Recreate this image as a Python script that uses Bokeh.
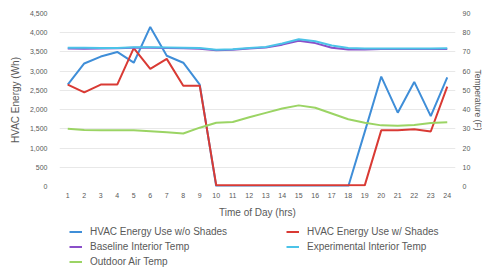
from bokeh.plotting import figure
from bokeh.layouts import column
from bokeh.models import Range1d, LinearAxis, FixedTicker, NumeralTickFormatter, Legend, LegendItem
from bokeh.embed import file_html
from bokeh.resources import INLINE

hours = list(range(1, 25))
energy_no_shades = [2650, 3200, 3380, 3500, 3220, 4150, 3400, 3220, 2650, 0, 0, 0, 0, 0, 0, 0, 0, 0,
                    1420, 2860, 1920, 2720, 1830, 2840]
energy_shades = [2650, 2450, 2650, 2650, 3600, 3060, 3320, 2620, 2620, 30, 30, 30, 30, 30, 30, 30, 30, 30,
                 30, 1460, 1460, 1490, 1430, 2600]
baseline_temp = [71.8, 71.7, 71.8, 71.9, 72.2, 72.2, 72.1, 71.9, 71.6, 70.9, 71.1, 71.8, 72.3, 73.8,
                 75.8, 74.6, 72.2, 71.3, 71.3, 71.5, 71.5, 71.5, 71.5, 71.5]
exp_temp = [72.2, 72.2, 72.1, 72.0, 72.4, 72.4, 72.3, 72.2, 72.0, 71.2, 71.4, 72.1, 72.6, 74.4,
            76.6, 75.6, 73.4, 72.0, 71.8, 71.8, 71.8, 71.8, 71.8, 71.9]
outdoor_temp = [30.0, 29.4, 29.3, 29.3, 29.2, 28.8, 28.2, 27.6, 30.6, 33.2, 33.6, 36.0, 38.3, 40.6,
                42.2, 41.0, 38.0, 35.0, 33.2, 31.8, 31.6, 32.0, 33.0, 33.4]
series_names = ["HVAC Energy Use w/o Shades", "HVAC Energy Use w/ Shades",
                "Baseline Interior Temp", "Experimental Interior Temp", "Outdoor Air Temp"]
series_colors = ["#3f8ed8", "#d93a34", "#8a4fc9", "#4cc3e8", "#9bd464"]

left_ticks = list(range(0, 4501, 500))
right_ticks = list(range(0, 91, 10))

FONT = "Liberation Sans"
GREY = "#595959"

p = figure(output_backend="svg", toolbar_location=None,
           x_range=Range1d(0.5, 24.5), y_range=Range1d(0, 4500),
           frame_width=396, frame_height=173,
           min_border_left=59, min_border_right=0, min_border_top=13, min_border_bottom=0)
p.extra_y_ranges = {"temp": Range1d(0, 90)}
p.outline_line_color = None

p.line(hours, energy_no_shades, line_color=series_colors[0], line_width=2)
p.line(hours, energy_shades, line_color=series_colors[1], line_width=2)
p.line(hours, baseline_temp, line_color=series_colors[2], line_width=2, y_range_name="temp")
p.line(hours, exp_temp, line_color=series_colors[3], line_width=2, y_range_name="temp")
p.line(hours, outdoor_temp, line_color=series_colors[4], line_width=2, y_range_name="temp")

p.xaxis.ticker = FixedTicker(ticks=hours)
p.yaxis.ticker = FixedTicker(ticks=left_ticks)
p.yaxis.formatter = NumeralTickFormatter(format="0,0")
p.xgrid.visible = False
p.ygrid.ticker = FixedTicker(ticks=left_ticks)
p.ygrid.grid_line_color = "#e8e8e8"

raxis = LinearAxis(y_range_name="temp", ticker=FixedTicker(ticks=right_ticks))
p.add_layout(raxis, "right")

for ax in [p.xaxis[0], p.yaxis[0], raxis]:
    ax.axis_line_color = None
    ax.major_tick_line_color = None
    ax.minor_tick_line_color = None
    ax.major_label_text_font = FONT
    ax.major_label_text_font_size = "7px"
    ax.major_label_text_color = GREY
    ax.axis_label_text_font = FONT
    ax.axis_label_text_font_size = "10px"
    ax.axis_label_text_font_style = "normal"
    ax.axis_label_text_color = GREY

p.xaxis.axis_label = "Time of Day (hrs)"
p.xaxis.major_label_standoff = 0
p.xaxis.axis_label_standoff = 6
p.yaxis.axis_label = "HVAC Energy (Wh)"
p.yaxis.major_label_standoff = 6
p.yaxis.axis_label_standoff = 6
raxis.axis_label = "Temperature (F)"
raxis.axis_label_text_font_size = "8.5px"
raxis.major_label_standoff = 1
raxis.axis_label_standoff = 0

# Legend panel: a second figure whose frame holds the legend
p2 = figure(output_backend="svg", toolbar_location=None, width=474, height=56,
            x_range=Range1d(0.5, 24.5), y_range=Range1d(-20000, -10000),
            x_axis_location=None, y_axis_location=None,
            min_border_left=0, min_border_right=0, min_border_top=0, min_border_bottom=0)
p2.outline_line_color = None
p2.grid.visible = False
all_series = [energy_no_shades, energy_shades, baseline_temp, exp_temp, outdoor_temp]
items = []
for name, color, vals in zip(series_names, series_colors, all_series):
    r = p2.line(hours, vals, line_color=color, line_width=2)
    items.append(LegendItem(label=name, renderers=[r]))

legend = Legend(items=items, orientation="horizontal", ncols=2, location=(10, 8))
legend.border_line_color = None
legend.background_fill_alpha = 0
legend.label_text_font = FONT
legend.label_text_font_size = "10px"
legend.label_text_color = GREY
legend.glyph_width = 13
legend.glyph_height = 13
legend.label_height = 13
legend.label_width = 194
legend.label_standoff = 8
legend.spacing = 2
legend.padding = 2
legend.margin = 0
p2.add_layout(legend, "center")

open("out.html", "w").write(file_html(column(p, p2, spacing=0), INLINE))
